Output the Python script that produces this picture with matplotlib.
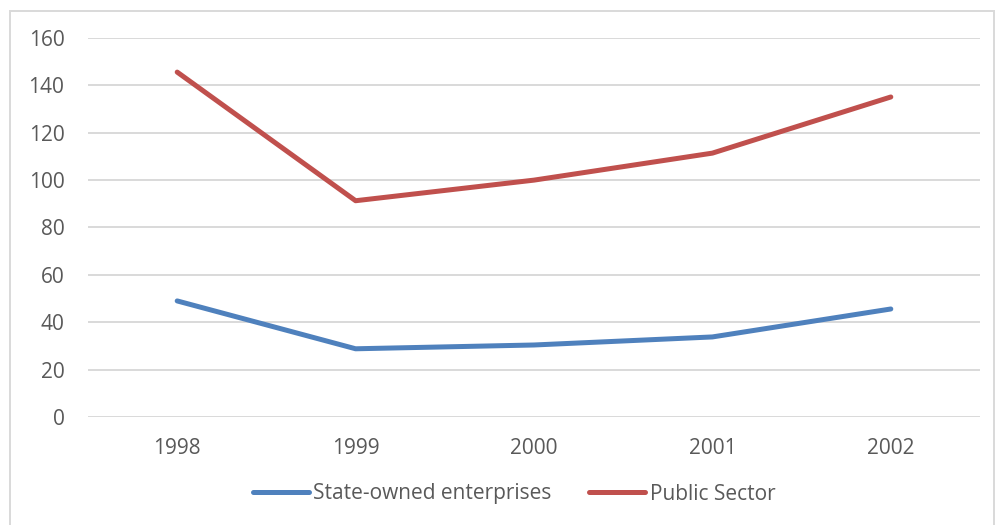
import matplotlib
matplotlib.use("Agg")
import matplotlib.pyplot as plt
from matplotlib.patches import Rectangle

years = ["1998", "1999", "2000", "2001", "2002"]
soe = [49, 28.8, 30.4, 33.8, 45.6]
public = [145.6, 91.3, 100, 111.4, 135.1]

plt.rcParams['font.family'] = ['Open Sans', 'DejaVu Sans']
text_color = "#595959"
fs = 15

fig = plt.figure(figsize=(10, 5.25), dpi=100)
ax = fig.add_axes([0.088, 1 - 417/525, 0.892, (417-38)/525])

x = list(range(len(years)))
ax.plot(x, soe, color="#4F81BD", lw=3.6, solid_capstyle="round", solid_joinstyle="round",
        label="State-owned enterprises")
ax.plot(x, public, color="#C0504D", lw=3.6, solid_capstyle="round", solid_joinstyle="round",
        label="Public Sector")

ax.set_xlim(-0.5, len(years) - 0.5)
ax.set_ylim(0, 160)
ax.set_yticks(range(0, 161, 20))
ax.set_xticks(x)
ax.set_xticklabels(years)
ax.yaxis.grid(True, color="#D9D9D9", lw=1.4)
ax.set_axisbelow(True)
for s in ax.spines.values():
    s.set_visible(False)
ax.tick_params(axis="both", length=0, labelsize=fs, labelcolor=text_color)
ax.tick_params(axis="y", pad=17)
ax.tick_params(axis="x", pad=15)

fig.legend(loc="center", bbox_to_anchor=(0.514, 1 - 494/525), ncol=2, frameon=False,
           fontsize=fs, labelcolor=text_color, handlelength=2.7, handletextpad=0.2,
           columnspacing=1.8)

fig.patches.append(Rectangle((10/1000, -0.05), 984/1000, (525 - 11)/525 + 0.05,
                             transform=fig.transFigure, fill=False, edgecolor="#D9D9D9", lw=1.4))

fig.savefig("out.png", dpi=100)
